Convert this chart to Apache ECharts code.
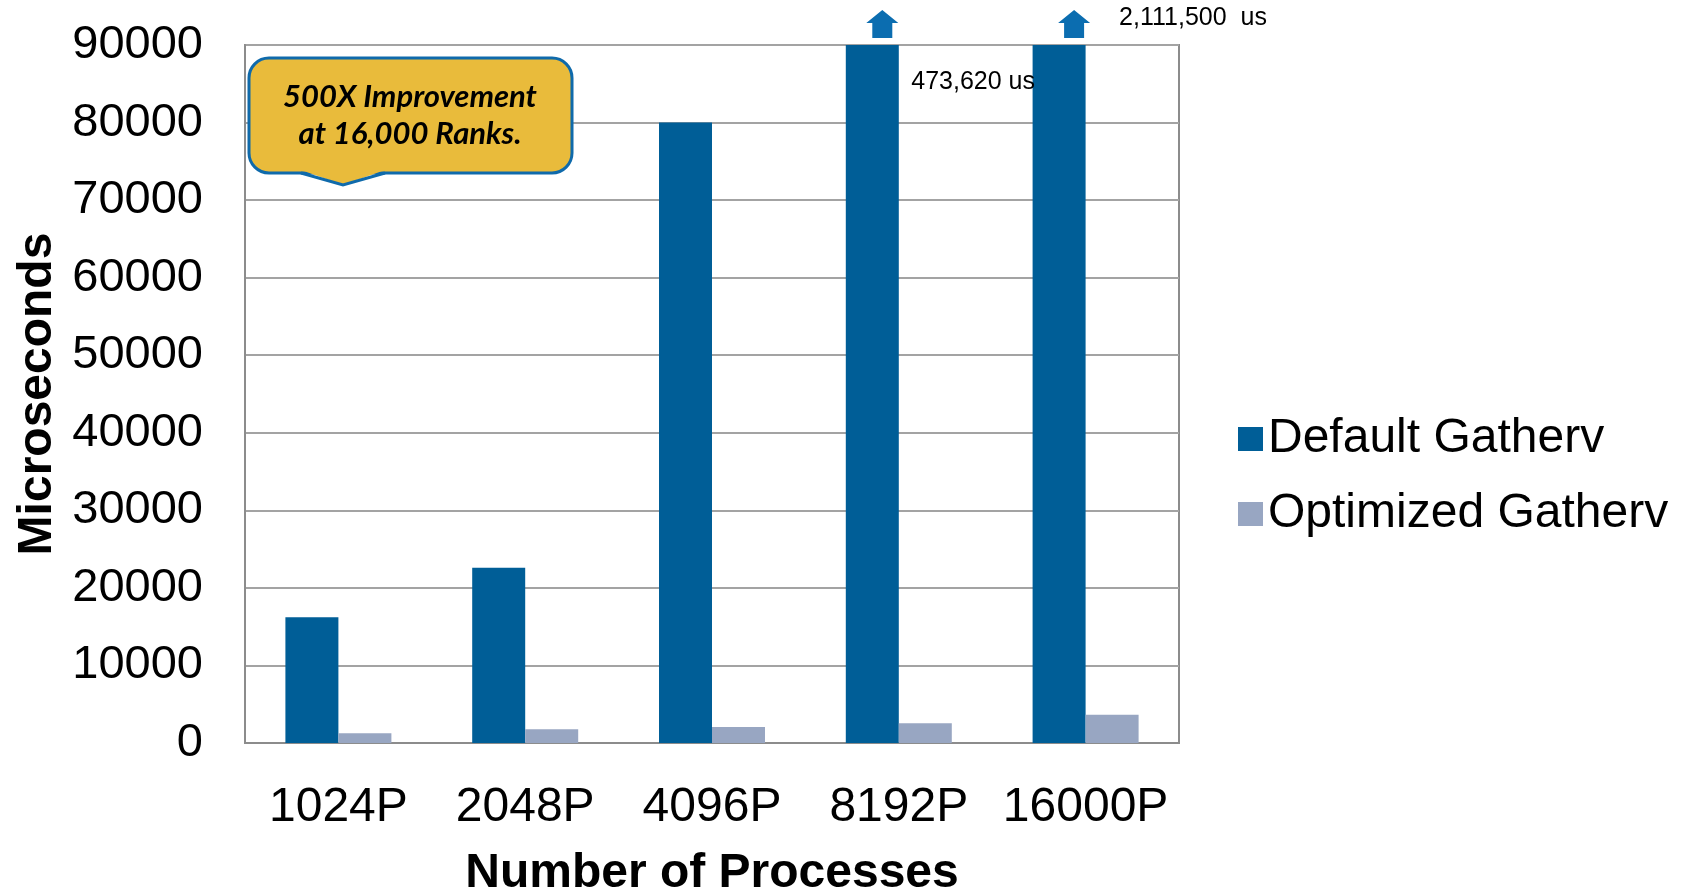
<!DOCTYPE html>
<html>
<head>
<meta charset="utf-8">
<script src="https://cdn.jsdelivr.net/npm/echarts@6/dist/echarts.min.js"></script>
<style>
  html, body { margin: 0; padding: 0; background: #fff; }
  #main { width: 1685px; height: 890px; }
</style>
</head>
<body>
<div id="main"></div>
<script>
// data
const categories = ['1024P', '2048P', '4096P', '8192P', '16000P']
const defaultGatherv = [16200, 22600, 80000, 473620, 2111500]
const optimizedGatherv = [1250, 1770, 2060, 2540, 3650]
const yTicks = { min: 0, max: 90000, interval: 10000 }
// bars that run off the top get an arrow + their real value
const offScale = [
  { cat: '8192P', text: '473,620 us', dx: 10, labelPos: [45, 72] },
  { cat: '16000P', text: '2,111,500  us', dx: 15, labelPos: [61, 8] },
]

const font = 'Liberation Sans, Arial, sans-serif'
const arrowPath = 'path://M16,0 L32,13 L26,13 L26,28 L6,28 L6,13 L0,13 Z'
const bubbleFill = '#e9bb3b'
const bubbleLine = '#0f6aab'

var myChart = echarts.init(document.getElementById('main'))

let option = {
  animation: false,
  textStyle: { fontFamily: font, color: '#000' },
  grid: {
    left: 245,
    right: 506,
    top: 45,
    bottom: 147,
    outerBoundsMode: 'none',
    show: true,
    borderColor: '#8c8c8c',
    borderWidth: 2,
  },
  legend: {
    orient: 'vertical',
    left: 1233,
    top: 410,
    itemWidth: 25,
    itemHeight: 24,
    itemGap: 27,
    icon: 'rect',
    textStyle: { fontSize: 48, fontFamily: font, color: '#000', lineHeight: 48 },
    data: ['Default Gatherv', 'Optimized Gatherv'],
  },
  xAxis: {
    type: 'category',
    data: categories,
    name: 'Number of Processes',
    nameLocation: 'middle',
    nameGap: 107,
    nameTextStyle: { fontSize: 48, fontWeight: 'bold', color: '#000' },
    axisLine: { lineStyle: { color: '#8c8c8c', width: 2 } },
    axisTick: { show: false },
    axisLabel: { fontSize: 48, color: '#000', margin: 41, interval: 0 },
  },
  yAxis: {
    type: 'value',
    min: yTicks.min,
    max: yTicks.max,
    interval: yTicks.interval,
    name: 'Microseconds',
    nameLocation: 'middle',
    nameGap: 181,
    nameTextStyle: { fontSize: 48, fontWeight: 'bold', color: '#000' },
    axisLine: { show: true, lineStyle: { color: '#8c8c8c', width: 2 } },
    axisTick: { show: false },
    axisLabel: {
      fontSize: 47,
      color: '#000',
      margin: 42,
      formatter: (v) => String(v),
    },
    splitLine: { lineStyle: { color: '#a3a3a3', width: 2 } },
  },
  series: [
    {
      name: 'Default Gatherv',
      type: 'bar',
      data: defaultGatherv,
      barWidth: 53,
      barGap: '0%',
      clip: true,
      itemStyle: { color: '#005e97' },
      markPoint: {
        symbol: arrowPath,
        symbolSize: [32, 28],
        itemStyle: { color: '#0b6db0' },
        data: offScale.map((o) => ({
          coord: [o.cat, yTicks.max],
          symbolOffset: [o.dx, -21],
          label: {
            show: true,
            formatter: o.text,
            position: o.labelPos,
            align: 'left',
            verticalAlign: 'middle',
            fontSize: 25,
            color: '#000',
            fontFamily: font,
          },
        })),
      },
    },
    {
      name: 'Optimized Gatherv',
      type: 'bar',
      data: optimizedGatherv,
      barWidth: 53,
      itemStyle: { color: '#98a6c2' },
    },
  ],
  // yellow callout bubble
  graphic: [
    {
      type: 'rect',
      z: 100,
      shape: { x: 249, y: 58, width: 323, height: 115, r: 20 },
      style: { fill: bubbleFill, stroke: bubbleLine, lineWidth: 3 },
    },
    {
      type: 'polygon',
      z: 101,
      shape: { points: [[301, 170], [385, 170], [343, 185]] },
      style: { fill: bubbleFill },
    },
    {
      type: 'polyline',
      z: 102,
      shape: { points: [[301, 173], [343, 185], [385, 173]] },
      style: { fill: null, stroke: bubbleLine, lineWidth: 3 },
    },
    {
      type: 'text',
      z: 103,
      x: 410,
      y: 115,
      style: {
        text: '500X Improvement\nat 16,000 Ranks.',
        fontFamily: 'Lato, Open Sans, sans-serif',
        fontSize: 31,
        fontWeight: 'bold',
        fontStyle: 'italic',
        lineHeight: 37,
        fill: '#000',
        align: 'center',
        verticalAlign: 'middle',
      },
    },
  ],
}

myChart.setOption(option)
</script>
</body>
</html>
